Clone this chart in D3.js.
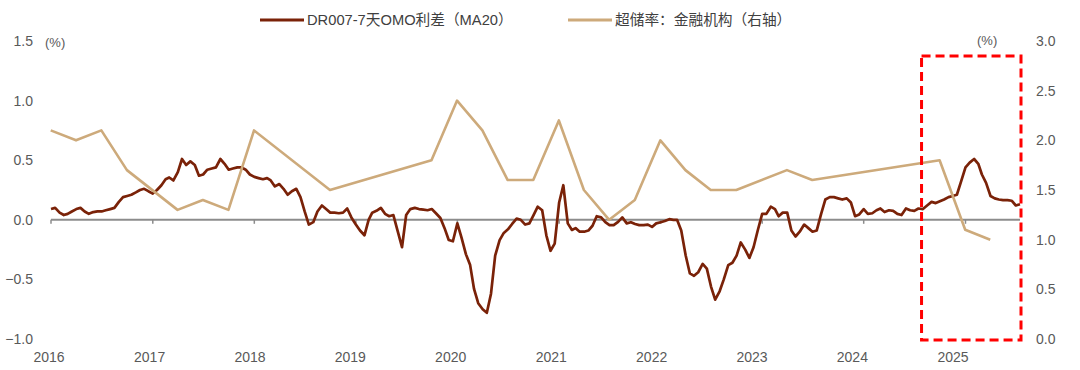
<!DOCTYPE html>
<html>
<head>
<meta charset="utf-8">
<script src="https://d3js.org/d3.v7.min.js"></script>
<style>
  body { margin: 0; background: #fff; }
  text { font-family: "Liberation Sans", Arial, "Noto Sans CJK SC", sans-serif; fill: #595959; }
  .legend text { fill: #404040; }
</style>
</head>
<body>
<svg id="chart" width="1080" height="370"></svg>
<script>
// DR007 - 7D OMO spread, MA20, semi-monthly readings (1st and 16th), Jan 2016 -> Jul 2025
const spreadStart = "2016-01-01";
const spreadValues = [
  0.09, 0.10, 0.06, 0.04, 0.05, 0.07, 0.09, 0.10, 0.07, 0.05,
  0.065, 0.07, 0.07, 0.08, 0.09, 0.10, 0.15, 0.19, 0.20, 0.21,
  0.23, 0.25, 0.26, 0.24, 0.22, 0.25, 0.29, 0.34, 0.355, 0.33,
  0.40, 0.51, 0.46, 0.49, 0.46, 0.37, 0.38, 0.42, 0.43, 0.44,
  0.51, 0.47, 0.42, 0.43, 0.44, 0.44, 0.42, 0.38, 0.36, 0.35,
  0.34, 0.35, 0.33, 0.28, 0.30, 0.26, 0.21, 0.24, 0.26, 0.19,
  0.07, -0.04, -0.02, 0.07, 0.12, 0.09, 0.06, 0.06, 0.055, 0.06,
  0.095, 0.02, -0.04, -0.09, -0.13, 0.00, 0.06, 0.075, 0.10, 0.05,
  0.03, 0.04, -0.10, -0.23, 0.04, 0.09, 0.10, 0.09, 0.085, 0.08,
  0.09, 0.055, 0.015, -0.07, -0.17, -0.18, -0.03, -0.15, -0.29, -0.38,
  -0.58, -0.70, -0.75, -0.78, -0.62, -0.30, -0.17, -0.11, -0.08, -0.035,
  0.01, 0.00, -0.04, -0.03, 0.04, 0.11, 0.08, -0.13, -0.26, -0.20,
  0.145, 0.29, -0.03, -0.085, -0.07, -0.10, -0.10, -0.09, -0.05, 0.03,
  0.02, -0.02, -0.045, -0.045, -0.017, 0.02, -0.03, -0.02, -0.035, -0.045,
  -0.045, -0.04, -0.06, -0.03, -0.02, -0.01, 0.005, 0.00, 0.00, -0.09,
  -0.30, -0.45, -0.47, -0.44, -0.37, -0.41, -0.56, -0.67, -0.60, -0.50,
  -0.38, -0.36, -0.30, -0.19, -0.25, -0.32, -0.23, -0.09, 0.05, 0.05,
  0.11, 0.09, 0.03, 0.06, 0.06, -0.09, -0.14, -0.10, -0.04, -0.07,
  -0.10, -0.09, 0.05, 0.17, 0.19, 0.19, 0.18, 0.17, 0.18, 0.145,
  0.03, 0.045, 0.09, 0.05, 0.055, 0.08, 0.095, 0.065, 0.08, 0.075,
  0.05, 0.04, 0.095, 0.08, 0.075, 0.095, 0.09, 0.12, 0.15, 0.14,
  0.155, 0.17, 0.19, 0.20, 0.21, 0.32, 0.44, 0.48, 0.51, 0.47,
  0.38, 0.31, 0.20, 0.18, 0.17, 0.165, 0.165, 0.16, 0.12, 0.13
];

// excess reserve ratio, financial institutions (right axis), quarter ends
const reserveDates = [
  "2015-12-31", "2016-03-31", "2016-06-30", "2016-09-30", "2017-03-31", "2017-06-30",
  "2017-09-30", "2017-12-31", "2018-09-30", "2019-09-30", "2019-12-31", "2020-03-31",
  "2020-06-30", "2020-09-30", "2020-12-31", "2021-03-31", "2021-06-30", "2021-09-30",
  "2021-12-31", "2022-03-31", "2022-06-30", "2022-09-30", "2023-03-31", "2023-06-30",
  "2024-09-30", "2024-12-31", "2025-03-31"
];
const reserveValues = [
  2.1, 2.0, 2.1, 1.7, 1.3, 1.4,
  1.3, 2.1, 1.5, 1.8, 2.4, 2.1,
  1.6, 1.6, 2.2, 1.5, 1.2, 1.4,
  2.0, 1.7, 1.5, 1.5, 1.7, 1.6,
  1.8, 1.1, 1.0
];

const leftTicks = [1.5, 1.0, 0.5, 0.0, -0.5, -1.0];
const rightTicks = [3.0, 2.5, 2.0, 1.5, 1.0, 0.5, 0.0];
const yearTicks = [2016, 2017, 2018, 2019, 2020, 2021, 2022, 2023, 2024, 2025];
const seriesNames = ["DR007-7天OMO利差（MA20）", "超储率：金融机构（右轴）"];
const highlight = { start: "2024-07-27", top: 2.85, bottom: 0 };

const parse = d3.timeParse("%Y-%m-%d");
const start = parse(spreadStart);
const spread = spreadValues.map((v, i) => ({
  date: d3.timeDay.offset(d3.timeMonth.offset(start, Math.floor(i / 2)), i % 2 ? 15 : 0),
  value: v
}));
const reserve = reserveDates.map((d, i) => ({ date: parse(d), value: reserveValues[i] }));

const svg = d3.select("#chart");
const plot = { left: 51, right: 1020, top: 41, bottom: 339 };

const x = d3.scaleTime()
  .domain([start, spread[spread.length - 1].date])
  .range([plot.left, plot.right]);
const yL = d3.scaleLinear().domain([-1, 1.5]).range([plot.bottom, plot.top]);
const yR = d3.scaleLinear().domain([0, 3]).range([plot.bottom, plot.top]);

const col = { spread: "#7A2208", reserve: "#CDAA7B", axis: "#8C8C8C" };

// left axis labels
svg.append("g").selectAll("text").data(leftTicks).join("text")
  .attr("x", 33).attr("y", d => yL(d)).attr("dy", "0.35em")
  .attr("text-anchor", "end").style("font-size", "14px")
  .text(d => d3.format(".1f")(d));

svg.append("text").attr("x", 45).attr("y", yL(1.5) + 1).attr("dy", "0.35em")
  .style("font-size", "13px").text("(%)");

// right axis labels
svg.append("g").selectAll("text").data(rightTicks).join("text")
  .attr("x", 1036).attr("y", d => yR(d)).attr("dy", "0.35em")
  .style("font-size", "14px")
  .text(d => d3.format(".1f")(d));

svg.append("text").attr("x", 977).attr("y", yR(3) - 1).attr("dy", "0.35em")
  .style("font-size", "13px").text("(%)");

// zero line as x axis with year ticks
const yearDates = yearTicks.map(y => new Date(y, 0, 1));
svg.append("line")
  .attr("x1", plot.left).attr("x2", plot.right)
  .attr("y1", yL(0)).attr("y2", yL(0))
  .attr("stroke", col.axis).attr("stroke-width", 2);
svg.append("g").selectAll("line").data(yearDates).join("line")
  .attr("x1", d => x(d)).attr("x2", d => x(d))
  .attr("y1", yL(0)).attr("y2", yL(0) + 4)
  .attr("stroke", col.axis).attr("stroke-width", 1.5);

// year labels sit slightly left of their ticks in the original
const labelX = d3.scaleLinear()
  .domain([x(yearDates[0]), x(yearDates[yearDates.length - 1])])
  .range([49, 953]);
svg.append("g").selectAll("text").data(yearDates).join("text")
  .attr("x", d => labelX(x(d))).attr("y", 357).attr("dy", "0.35em")
  .attr("text-anchor", "middle").style("font-size", "14px")
  .text(d => d.getFullYear());

// series
const lineL = d3.line().x(d => x(d.date)).y(d => yL(d.value));
const lineR = d3.line().x(d => x(d.date)).y(d => yR(d.value));

svg.append("path").datum(spread)
  .attr("d", lineL).attr("fill", "none")
  .attr("stroke", col.spread).attr("stroke-width", 2.7)
  .attr("stroke-linejoin", "round");

svg.append("path").datum(reserve)
  .attr("d", lineR).attr("fill", "none")
  .attr("stroke", col.reserve).attr("stroke-width", 2.6)
  .attr("stroke-linejoin", "round");

// red dashed highlight box
const hx0 = x(parse(highlight.start));
svg.append("rect")
  .attr("x", hx0).attr("y", yR(highlight.top))
  .attr("width", plot.right + 1 - hx0)
  .attr("height", yR(highlight.bottom) - yR(highlight.top) + 1)
  .attr("fill", "none").attr("stroke", "#FF0000")
  .attr("stroke-width", 3).attr("stroke-dasharray", "9,5");

// legend
const legend = svg.append("g").attr("class", "legend");
const legendItems = [
  { name: seriesNames[0], color: col.spread, x: 260 },
  { name: seriesNames[1], color: col.reserve, x: 568 }
];
const li = legend.selectAll("g").data(legendItems).join("g")
  .attr("transform", d => `translate(${d.x},20)`);
li.append("line").attr("x1", 0).attr("x2", 44)
  .attr("stroke", d => d.color).attr("stroke-width", 3);
li.append("text").attr("x", 47).attr("dy", "0.35em")
  .style("font-size", "14.7px").text(d => d.name);
</script>
</body>
</html>
